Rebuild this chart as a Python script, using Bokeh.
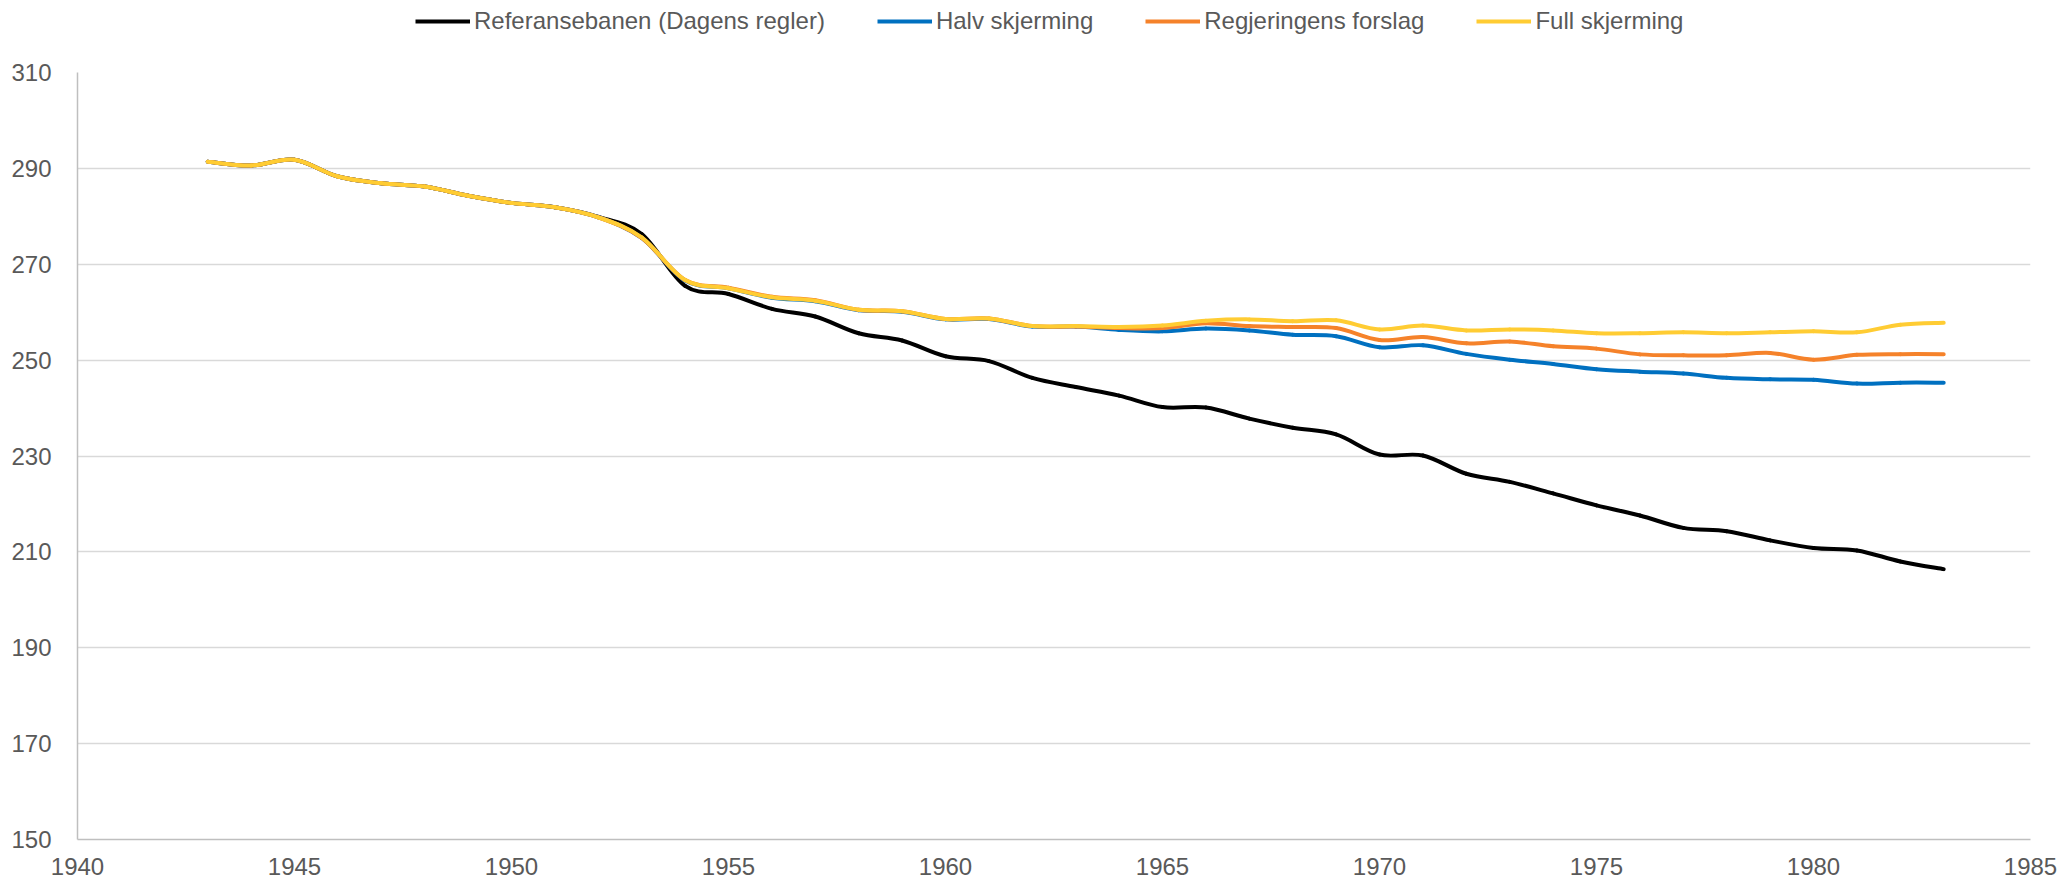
import numpy as np
from bokeh.plotting import figure
from bokeh.layouts import column
from bokeh.models import ColumnDataSource, Legend, LegendItem, Range1d, FixedTicker
from bokeh.embed import file_html
from bokeh.resources import INLINE

years = list(range(1943, 1984))

referanse = [291.4, 290.6, 291.8, 288.3, 286.9, 286.2, 284.3, 282.8, 281.9, 279.9,
             276.3, 265.5, 263.8, 260.7, 259.1, 255.6, 254.1, 250.8, 249.8, 246.3,
             244.4, 242.6, 240.2, 240.1, 237.8, 235.9, 234.5, 230.3, 230.1, 226.3,
             224.6, 222.2, 219.7, 217.6, 215.0, 214.3, 212.4, 210.8, 210.3, 208.0, 206.4]

halv = [291.4, 290.6, 291.8, 288.3, 286.9, 286.2, 284.3, 282.8, 281.9, 279.8,
        275.5, 266.6, 265.0, 263.0, 262.3, 260.4, 260.1, 258.5, 258.6, 257.0,
        257.0, 256.3, 256.0, 256.6, 256.2, 255.3, 255.0, 252.7, 253.1, 251.3,
        250.1, 249.2, 248.1, 247.6, 247.2, 246.3, 246.0, 245.9, 245.1, 245.3, 245.3]

regjering = [291.4, 290.6, 291.8, 288.3, 286.9, 286.2, 284.3, 282.8, 281.9, 279.8,
             275.5, 266.7, 265.1, 263.2, 262.5, 260.5, 260.2, 258.6, 258.7, 257.1,
             257.0, 256.7, 256.7, 257.7, 257.1, 256.9, 256.7, 254.2, 254.8, 253.5,
             253.9, 252.9, 252.4, 251.2, 251.0, 251.0, 251.5, 250.1, 251.1, 251.25, 251.25]

full = [291.4, 290.6, 291.8, 288.3, 286.9, 286.2, 284.3, 282.8, 281.9, 279.8,
        275.6, 266.7, 265.0, 263.1, 262.4, 260.5, 260.2, 258.6, 258.7, 257.1,
        257.1, 256.9, 257.2, 258.2, 258.5, 258.1, 258.3, 256.4, 257.2, 256.2,
        256.4, 256.2, 255.6, 255.6, 255.8, 255.6, 255.8, 256.0, 255.8, 257.4, 257.8]

series_names = ["Referansebanen (Dagens regler)", "Halv skjerming",
                "Regjeringens forslag", "Full skjerming"]
series_values = [referanse, halv, regjering, full]
series_colors = ["#000000", "#0070C0", "#F5822A", "#FFCC33"]

x_ticks = [1940, 1945, 1950, 1955, 1960, 1965, 1970, 1975, 1980, 1985]
y_ticks = [150, 170, 190, 210, 230, 250, 270, 290, 310]

FONT = "Liberation Sans"
TXT = "#595959"
LW = 4
W = 2072
LEG_H = 52
MAIN_H = 881 - LEG_H


def smooth_segments(xs, ys):
    """Cubic Bezier segments through the points (Excel-style smoothed line)."""
    x = np.asarray(xs, dtype=float)
    y = np.asarray(ys, dtype=float)
    xp = np.concatenate([[x[0]], x, [x[-1]]])
    yp = np.concatenate([[y[0]], y, [y[-1]]])
    n = len(x) - 1
    d = dict(x0=[], y0=[], x1=[], y1=[], cx0=[], cy0=[], cx1=[], cy1=[])
    for i in range(n):
        p0x, p0y = xp[i], yp[i]
        p1x, p1y = xp[i + 1], yp[i + 1]
        p2x, p2y = xp[i + 2], yp[i + 2]
        p3x, p3y = xp[i + 3], yp[i + 3]
        d["x0"].append(p1x); d["y0"].append(p1y)
        d["x1"].append(p2x); d["y1"].append(p2y)
        d["cx0"].append(p1x + (p2x - p0x) / 6.0)
        d["cy0"].append(p1y + (p2y - p0y) / 6.0)
        d["cx1"].append(p2x - (p3x - p1x) / 6.0)
        d["cy1"].append(p2y - (p3y - p1y) / 6.0)
    return d


# ---------------- main chart ----------------
p = figure(width=W, height=MAIN_H, output_backend="svg", toolbar_location=None,
           x_range=Range1d(1940, 1985), y_range=Range1d(150, 310),
           min_border_left=77, min_border_right=42, min_border_top=72 - LEG_H,
           min_border_bottom=42)
p.outline_line_color = None
p.background_fill_color = "white"
p.border_fill_color = "white"

for vals, col in zip(series_values, series_colors):
    src = ColumnDataSource(smooth_segments(years, vals))
    p.bezier(x0="x0", y0="y0", x1="x1", y1="y1", cx0="cx0", cy0="cy0",
             cx1="cx1", cy1="cy1", source=src, line_color=col,
             line_width=LW, line_cap="round")

p.xaxis.ticker = FixedTicker(ticks=x_ticks)
p.yaxis.ticker = FixedTicker(ticks=y_ticks)
for ax in (p.xaxis[0], p.yaxis[0]):
    ax.axis_line_color = "#BFBFBF"
    ax.axis_line_width = 1.5
    ax.major_tick_line_color = None
    ax.minor_tick_line_color = None
    ax.major_label_text_font = FONT
    ax.major_label_text_font_size = "24px"
    ax.major_label_text_color = TXT
p.xaxis.major_label_standoff = 12
p.yaxis.major_label_standoff = 20

p.xgrid.grid_line_color = None
p.ygrid.grid_line_color = "#D9D9D9"
p.ygrid.grid_line_width = 1.5

# ---------------- legend strip on top ----------------
lg = figure(width=W, height=LEG_H, output_backend="svg", toolbar_location=None,
            x_range=Range1d(1940, 1985), y_range=Range1d(150, 310),
            x_axis_location=None, y_axis_location=None,
            min_border_left=0, min_border_right=0, min_border_top=0,
            min_border_bottom=0)
lg.outline_line_color = None
lg.xgrid.grid_line_color = None
lg.ygrid.grid_line_color = None
lg.background_fill_color = "white"
lg.border_fill_color = "white"

items = []
for name, vals, col in zip(series_names, series_values, series_colors):
    lr = lg.line(x=years, y=vals, line_color=col, line_width=LW)
    lr.visible = False  # only used for the legend swatch
    items.append(LegendItem(label=name, renderers=[lr]))

legend = Legend(items=items, orientation="horizontal", location=(338, 17),
                border_line_color=None, background_fill_alpha=0,
                padding=0, margin=0, spacing=52, label_standoff=4,
                glyph_width=55, glyph_height=24, label_height=24,
                label_text_font=FONT, label_text_font_size="24px",
                label_text_color=TXT)
lg.add_layout(legend, "center")

layout = column(lg, p, spacing=0)
open("out.html", "w").write(file_html(layout, INLINE))
